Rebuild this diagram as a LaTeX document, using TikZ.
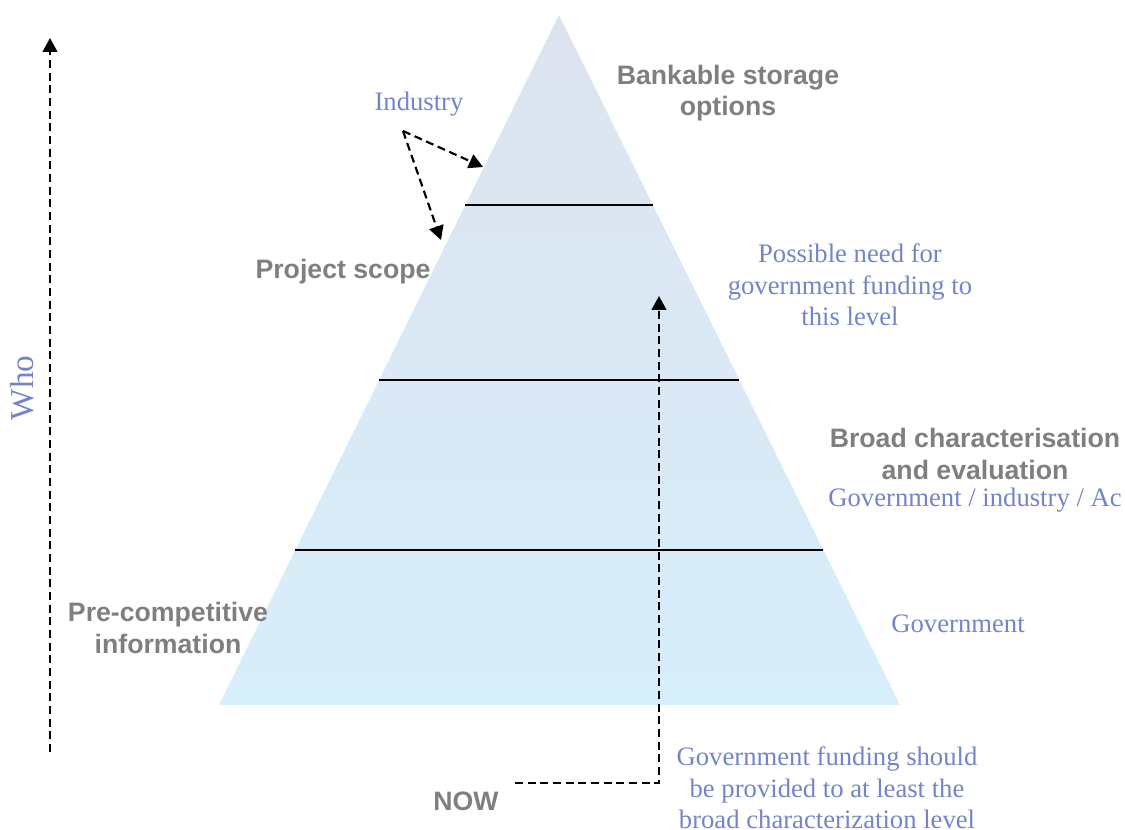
\documentclass[tikz,border=0pt]{standalone}
\usepackage{fontspec}
\setmainfont{Liberation Serif}
\setsansfont{Liberation Sans}
\usepackage{tikz}
\usetikzlibrary{calc, arrows.meta}

\definecolor{pyrtop}{HTML}{DDE3EE}
\definecolor{pyrbottom}{HTML}{D7EEFB}
\definecolor{tiercolor}{HTML}{7F7F7F}
\definecolor{whocolor}{HTML}{7484C8}

\begin{document}
\begin{tikzpicture}[
  x=0.75pt, y=-0.75pt,
  tier/.style={font=\sffamily\bfseries\fontsize{20}{23.5}\selectfont, text=tiercolor, align=center, inner sep=0pt},
  who/.style={font=\fontsize{20}{23.5}\selectfont, text=whocolor, align=center, inner sep=0pt},
  level/.style={line width=1.3pt},
  flow/.style={line width=1.6pt, dash pattern=on 6pt off 3.5pt, -{Triangle[length=10.5pt, width=11pt]}},
]
\useasboundingbox (0,0) rectangle (1125,830);

% pyramid
\coordinate (apex) at (559,15);
\coordinate (bl) at (219,705);
\coordinate (br) at (900,705);
\shade[top color=pyrtop, bottom color=pyrbottom] (apex) -- (br) -- (bl) -- cycle;

% level lines
\foreach \t in {0.2754, 0.529, 0.7754}
  \draw[level] ($(apex)!\t!(bl)$) -- ($(apex)!\t!(br)$);

% tier labels
\node[tier] (bank) at (728,93) {Bankable storage\\options};
\node[tier] (scope) at (343,272) {Project scope};
\node[tier] (broad) at (975,454) {Broad characterisation\\and evaluation};
\node[tier] (precomp) at (168,628) {Pre-competitive\\information};
\node[tier] (now) at (466,801) {NOW};

% who funds what
\node[who] (industry) at (419,104) {Industry};
\node[who] (possible) at (850,285) {Possible need for\\government funding to\\this level};
\node[who] (mixed) at (975,500) {Government / industry / Ac};
\node[who] (gov) at (958,624) {Government};
\node[who] (should) at (827,788) {Government funding should\\be provided to at least the\\broad characterization level};
\node[who, font=\fontsize{25}{28}\selectfont, rotate=90] (whoaxis) at (22,388) {Who};

% arrows
\coordinate (indfrom) at (403,131);
\coordinate (indtop) at (483,167);
\coordinate (indlow) at (441,240);
\draw[flow] (indfrom) -- (indtop);
\draw[flow] (indfrom) -- (indlow);

\coordinate (nowfrom) at (515,783);
\coordinate (nowto) at (659,296);
\draw[flow] (nowfrom) -| (nowto);

\coordinate (whobot) at (50,752);
\coordinate (whotop) at (50,38);
\draw[flow] (whobot) -- (whotop);

\end{tikzpicture}
\end{document}
